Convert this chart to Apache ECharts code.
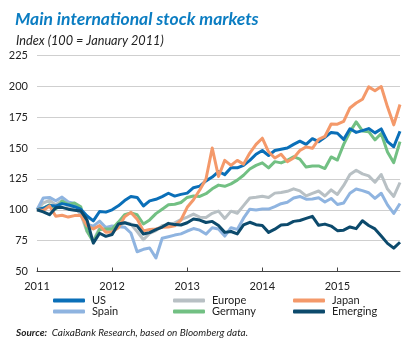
<!DOCTYPE html>
<html><head><meta charset="utf-8">
<script src="https://cdn.jsdelivr.net/npm/echarts@6/dist/echarts.min.js"></script>
<style>html,body{margin:0;padding:0;background:#fff}#c{width:409px;height:338px}</style>
</head><body><div id="c"></div>
<script>
// Monthly points from Jan 2011 (index 100) to end Oct 2015
const startYear = 2011;
const yearLabels = [2011, 2012, 2013, 2014, 2015];
const months = Array.from({length: 59}, (_, k) => startYear + k / 12);

const us = [100,101.2,103.5,103.0,105.0,104.0,102.5,100.5,95.0,91.0,98.6,98.1,100.0,
  103.2,107.5,110.8,110.0,103.1,107.2,108.5,110.7,113.4,111.1,112.5,113.5,
  117.9,119.2,123.4,126.5,131.0,128.5,134.0,134.0,136.0,140.0,145.0,148.0,
  144.0,148.0,149.0,150.0,153.0,155.6,153.0,157.6,155.2,158.8,162.7,162.0,
  157.0,165.6,162.7,164.1,165.8,162.3,165.5,155.2,151.1,163.6];
const spain = [100,109.6,110.0,107.3,110.3,106.3,105.1,97.7,88.4,86.7,90.8,85.7,86.9,
  86.3,85.9,81.2,66.0,68.0,69.0,61.0,77.0,78.2,79.5,80.5,82.8,
  84.8,83.5,80.3,85.4,84.4,78.7,85.5,84.1,93.2,100.5,99.8,100.6,
  100.6,102.6,104.9,106.1,109.5,110.8,108.6,108.8,109.8,106.3,109.2,104.3,
  105.5,113.4,116.8,115.5,113.8,109.2,113.4,104.0,97.0,105.1];
const europe = [100,105.5,107.6,104.0,107.5,102.2,101.8,96.4,82.2,75.0,85.2,83.2,82.8,
  86.3,89.7,88.5,82.4,75.7,80.9,83.1,87.2,87.6,89.4,92.0,94.1,
  96.5,94.0,93.8,97.1,98.9,93.0,98.9,97.2,103.4,109.6,110.2,111.0,
  110.0,113.5,114.0,115.0,117.0,115.3,111.3,113.3,115.2,111.2,116.1,112.4,
  119.7,128.5,132.0,129.1,127.5,122.3,128.6,116.8,110.8,122.1];
const germany = [100,101.2,104.0,100.7,107.0,104.3,105.5,102.4,82.8,74.0,84.0,84.5,84.4,
  90.0,96.0,97.5,96.0,88.5,91.8,96.9,100.5,104.0,104.5,105.9,110.0,
  111.2,110.8,113.0,117.0,120.0,119.0,121.0,124.0,128.0,133.0,136.0,138.0,
  134.0,139.0,138.0,140.0,143.0,141.0,134.6,135.5,135.5,133.4,142.8,140.3,
  153.0,163.1,171.2,163.9,163.3,156.6,161.8,146.8,138.2,155.2];
const japan = [100,99.4,103.1,94.7,95.6,94.1,95.3,95.5,86.9,84.5,87.3,81.9,82.1,
  85.5,94.4,97.9,92.4,82.9,84.0,84.4,85.8,86.1,87.0,91.7,102.0,
  108.1,116.0,125.0,150.0,127.0,140.0,136.0,140.0,137.0,146.0,153.0,158.0,
  147.0,142.0,145.0,139.0,142.0,148.0,151.0,149.8,157.0,159.4,169.5,169.4,
  171.6,182.5,186.5,189.5,199.6,196.5,199.9,183.4,168.8,185.3];
const emerging = [100,98.3,96.0,101.7,102.0,100.5,99.7,99.1,91.7,73.0,81.0,78.5,80.0,
  88.5,89.5,88.0,87.0,80.4,81.5,84.0,86.0,89.0,88.0,87.7,89.5,
  92.6,91.7,89.7,90.6,87.3,81.7,82.4,80.4,87.7,89.9,87.9,87.2,
  81.7,84.3,87.7,88.0,90.6,91.3,93.0,94.7,87.4,88.4,86.8,83.1,
  83.5,86.1,84.7,91.1,87.3,84.5,78.7,72.8,68.9,73.7];

const colors = {US:'#0a6fb8', Spain:'#8fb4e0', Europe:'#b8c0c4', Germany:'#72c083', Japan:'#f4996a', Emerging:'#0c4a6c'};
const valuesByName = {US:us, Spain:spain, Europe:europe, Germany:germany, Japan:japan, Emerging:emerging};
const drawOrder = ['Europe','Spain','Germany','US','Japan','Emerging'];
const legendLayout = [['US',48,290],['Europe',168,290],['Japan',288,290],['Spain',48,301],['Germany',168,301],['Emerging',288,301]];

const FONT = 'Lato';
const chart = echarts.init(document.getElementById('c'), null, {renderer:'canvas'});
chart.setOption({
  animation: false,
  backgroundColor: '#fff',
  textStyle: {fontFamily: FONT},
  title: [
    {text:'Main international stock markets', left:10, top:5,
     textStyle:{fontFamily:FONT, fontSize:17.5, fontWeight:'bold', fontStyle:'italic', color:'#0b7dc2'}},
    {text:'Index (100 = January 2011)', left:11, top:29,
     textStyle:{fontFamily:FONT, fontSize:12.7, fontWeight:'normal', fontStyle:'italic', color:'#222'}},
    {text:'{b|Source:} {i|CaixaBank Research, based on Bloomberg data.}', left:11, top:322,
     textStyle:{lineHeight:12, fontWeight:'normal', rich:{
       b:{fontFamily:FONT, fontSize:10, fontWeight:'bold', fontStyle:'italic', color:'#222', lineHeight:12},
       i:{fontFamily:FONT, fontSize:10, fontWeight:'normal', fontStyle:'italic', color:'#222', lineHeight:12}}}}
  ],
  legend: legendLayout.map(([n,l,t]) => ({
    data:[n], left:l, top:t, itemWidth:32, itemHeight:4, icon:'roundRect', itemGap:0,
    textStyle:{fontFamily:FONT, fontSize:11, color:'#222', padding:[0,0,0,2]}
  })),
  grid: {left:37, right:9, top:55.5, bottom:66.5},
  xAxis: {
    type:'value', min:startYear, max:startYear + 58/12,
    axisLine:{show:true, lineStyle:{color:'#444', width:1}},
    axisTick:{show:true, inside:true, length:4, lineStyle:{color:'#444'}, customValues:yearLabels},
    axisLabel:{color:'#222', fontSize:11, fontFamily:FONT, margin:9, customValues:yearLabels, formatter:v=>String(v)},
    splitLine:{show:false}
  },
  yAxis: {
    type:'value', min:50, max:225, interval:25,
    axisLine:{show:false}, axisTick:{show:false},
    axisLabel:{color:'#222', fontSize:11, fontFamily:FONT, margin:9},
    splitLine:{show:true, lineStyle:{color:'#cfcfcf', width:1}}
  },
  series: drawOrder.map(n => ({
    name:n, type:'line', showSymbol:false, symbol:'none',
    data: months.map((x,i) => [x, valuesByName[n][i]]),
    lineStyle:{width:3, color:colors[n], join:'round'},
    itemStyle:{color:colors[n]}
  }))
});
</script></body></html>
